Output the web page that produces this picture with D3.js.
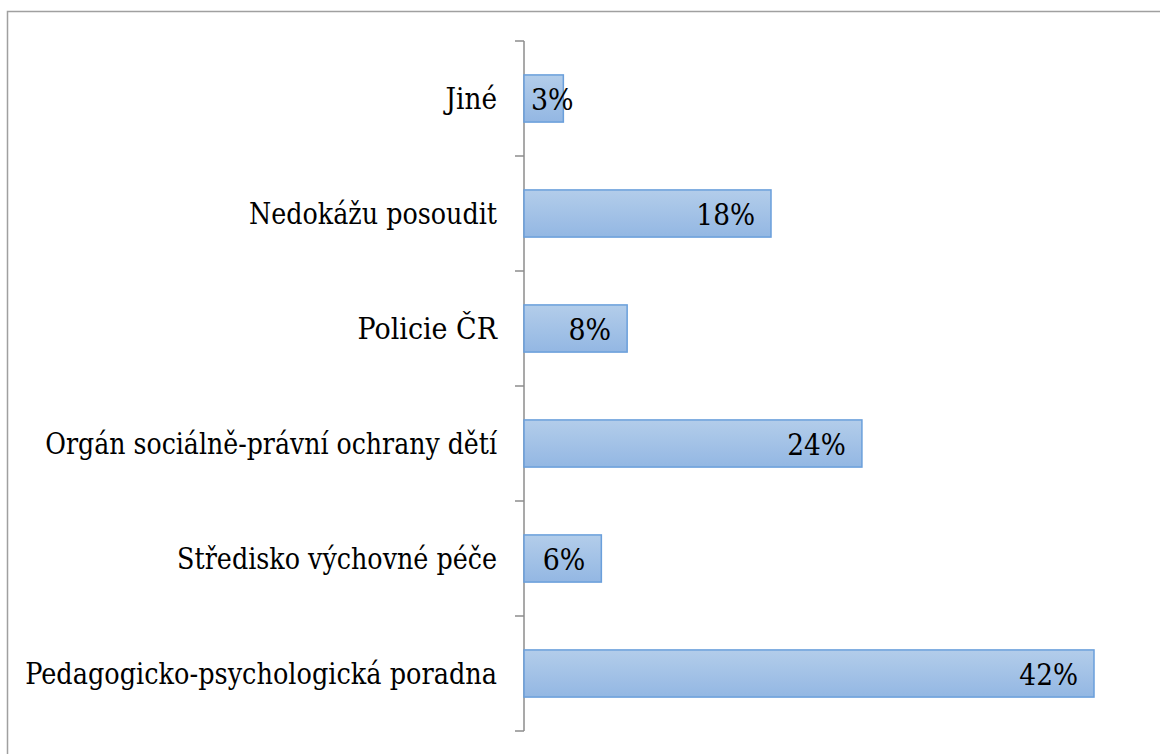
<!DOCTYPE html>
<html lang="cs">
  <head>
    <meta charset="utf-8">
    <title>Kam se obrátit</title>
    <script src="https://d3js.org/d3.v7.js"></script>
    <style>
      body { margin: 0; background: #fff; }
    </style>
  </head>
  <body>
  <script>

// data, top to bottom
var categories = ["Jiné", "Nedokážu posoudit", "Policie ČR",
  "Orgán sociálně-právní ochrany dětí", "Středisko výchovné péče",
  "Pedagogicko-psychologická poradna"];
var values = [2.9, 18.2, 7.6, 24.9, 5.7, 42.0];
var valueLabels = ["3%", "18%", "8%", "24%", "6%", "42%"];

var w = 1160;
var h = 754;
var axisX = 524;
var plotTop = 41, plotBottom = 731;
var measureFont = "'Liberation Serif', 'Times New Roman', serif";
var drawFont = "'DejaVu Serif', serif";

var svg = d3.select("body")
  .append("svg")
    .attr("width", w)
    .attr("height", h);

// frame (runs off the right and bottom edge)
svg.append("rect")
  .attr("x", 7.5)
  .attr("y", 11.5)
  .attr("width", 1300)
  .attr("height", 900)
  .attr("fill", "none")
  .attr("stroke", "#a0a0a0")
  .attr("stroke-width", 1.5);

var defs = svg.append("defs");
var grad = defs.append("linearGradient")
  .attr("id", "barGrad")
  .attr("x1", 0).attr("y1", 0).attr("x2", 0).attr("y2", 1);
grad.append("stop").attr("offset", "0%").attr("stop-color", "#b3cdea");
grad.append("stop").attr("offset", "100%").attr("stop-color", "#93b7e3");

var yScale = d3.scaleBand()
  .domain(categories)
  .range([plotTop, plotBottom])
  .paddingInner(0.59)
  .paddingOuter(0.295);

var xScale = d3.scaleLinear()
  .domain([0, 42])
  .range([axisX, 1094]);

var data = categories.map(function(c, i) {
  return {cat: c, val: values[i], label: valueLabels[i]};
});

// y axis with ticks between categories
var step = yScale.step();
var tickPos = categories.map(function(c) { return yScale(c) - (step - yScale.bandwidth()) / 2; });
tickPos.push(plotBottom);

svg.append("line")
  .attr("x1", axisX).attr("x2", axisX)
  .attr("y1", plotTop).attr("y2", plotBottom)
  .attr("stroke", "#8c8c8c")
  .attr("stroke-width", 1.5);

svg.selectAll(".tick")
  .data(tickPos)
  .join("line")
  .attr("class", "tick")
  .attr("x1", axisX - 9).attr("x2", axisX)
  .attr("y1", d => d).attr("y2", d => d)
  .attr("stroke", "#8c8c8c")
  .attr("stroke-width", 1.5);

// bars
svg.selectAll(".bar")
  .data(data)
  .join("rect")
  .attr("class", "bar")
  .attr("x", xScale(0))
  .attr("y", d => yScale(d.cat))
  .attr("width", d => xScale(d.val) - xScale(0))
  .attr("height", yScale.bandwidth())
  .attr("fill", "url(#barGrad)")
  .attr("stroke", "#6a9fdb")
  .attr("stroke-width", 1.5);

// measure with Times-like metrics, then draw in a serif face squeezed to that width
function serifText(sel) {
  sel.each(function() {
    var t = d3.select(this)
      .style("font-family", measureFont)
      .style("font-size", "32px");
    var len = this.getComputedTextLength();
    t.style("font-family", drawFont)
      .style("font-size", "29px")
      .attr("textLength", len)
      .attr("lengthAdjust", "spacingAndGlyphs");
    this.__len = len;
  });
}

// category labels
svg.selectAll(".cat-label")
  .data(data)
  .join("text")
  .attr("class", "cat-label")
  .attr("x", axisX - 27)
  .attr("y", d => yScale(d.cat) + yScale.bandwidth() / 2)
  .attr("dy", "0.36em")
  .attr("text-anchor", "end")
  .attr("fill", "#000")
  .text(d => d.cat)
  .call(serifText);

// value labels, inside end (start of bar if they do not fit)
svg.selectAll(".val-label")
  .data(data)
  .join("text")
  .attr("class", "val-label")
  .attr("y", d => yScale(d.cat) + yScale.bandwidth() / 2)
  .attr("dy", "0.38em")
  .attr("fill", "#000")
  .text(d => d.label)
  .call(serifText)
  .each(function(d) {
    var x = xScale(d.val) - 16 - this.__len;
    if (x < axisX + 7) x = axisX + 7;
    d3.select(this).attr("x", x);
  });

  </script>
  </body>
</html>
